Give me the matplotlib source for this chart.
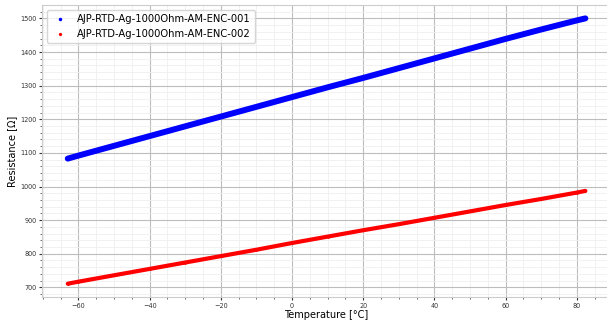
import numpy as np
import matplotlib.pyplot as plt
from matplotlib.ticker import MultipleLocator

# values
temp = [-63, -60, -50, -40, -30, -20, -10, 0, 10, 20, 30, 40, 50, 60, 70, 80, 82.4]
res_001 = [1083, 1092, 1121, 1150, 1179, 1208, 1237, 1266, 1295, 1323, 1352, 1381, 1410, 1439, 1467, 1494, 1500]
res_002 = [711, 717, 736, 755, 774, 793, 812, 832, 851, 870, 888, 907, 926, 945, 963, 982, 987]
labels = ['AJP-RTD-Ag-1000Ohm-AM-ENC-001', 'AJP-RTD-Ag-1000Ohm-AM-ENC-002']

fig = plt.figure(figsize=(6.07, 3.2), dpi=100)
ax = fig.add_axes([0.069, 0.072, 0.938, 0.912])

# dense measurement band drawn as thick line, dots for the legend
ax.plot(temp, res_001, color='blue', lw=4.3, solid_capstyle='round', zorder=3)
ax.plot(temp, res_002, color='red', lw=3.0, solid_capstyle='round', zorder=3)
ax.plot(temp, res_001, '.', color='blue', ms=2, label=labels[0], zorder=3)
ax.plot(temp, res_002, '.', color='red', ms=1.8, label=labels[1], zorder=3)

ax.xaxis.set_major_locator(MultipleLocator(20))
ax.xaxis.set_minor_locator(MultipleLocator(5))
ax.yaxis.set_major_locator(MultipleLocator(100))
ax.yaxis.set_minor_locator(MultipleLocator(20))
ax.grid(which='major', color='#bdbdbd', lw=0.8)
ax.grid(which='minor', color='#efefef', lw=0.6)
ax.set_axisbelow(True)
ax.tick_params(which='major', labelsize=4.7, colors='#333333', length=2.5, pad=1.5)
ax.tick_params(which='minor', length=1.3, colors='#555555')
for s in ax.spines.values():
    s.set_color('#cccccc')

ax.set_xlabel('Temperature [°C]', fontsize=7, labelpad=1)
ax.set_ylabel('Resistance [Ω]', fontsize=7, labelpad=2)
ax.legend(loc='upper left', fontsize=7.2, numpoints=1, markerscale=1.5, handlelength=1.8,
          borderaxespad=0.5, framealpha=0.8)

fig.savefig('out.png', dpi=100)
